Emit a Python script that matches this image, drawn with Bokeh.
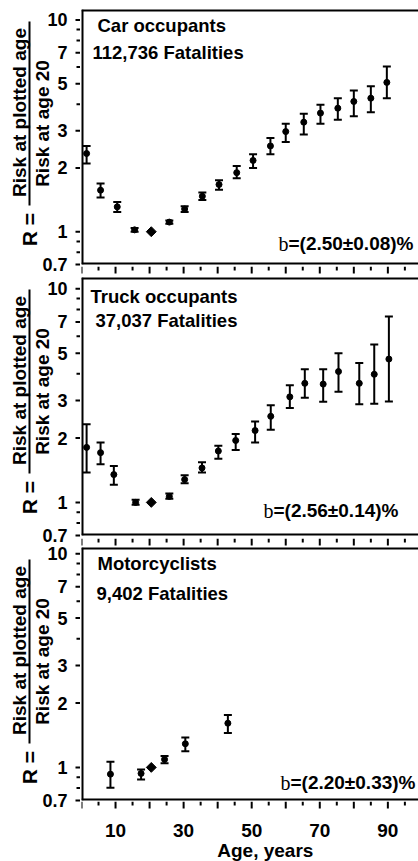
import math
from bokeh.plotting import figure
from bokeh.models import (ColumnDataSource, Whisker, TeeHead, Label, Range1d,
                          Span, LogScale)
from bokeh.layouts import column, row
from bokeh.core.properties import value
from bokeh.embed import file_html
from bokeh.resources import INLINE

# ---------------- data ----------------
car_age = [1.5, 5.6, 10.5, 15.6, 25.8, 30.3, 35.5, 40.4, 45.6, 50.4, 55.5,
           60.0, 65.3, 70.2, 75.3, 80.0, 85.0, 89.7]
car_R = [2.34, 1.57, 1.31, 1.02, 1.11, 1.28, 1.47, 1.67, 1.90, 2.17, 2.54,
         2.97, 3.29, 3.63, 3.83, 4.12, 4.27, 5.07]
car_lo = [2.10, 1.45, 1.24, 1.00, 1.09, 1.24, 1.41, 1.58, 1.79, 2.00, 2.32,
          2.65, 2.88, 3.23, 3.38, 3.51, 3.66, 4.27]
car_hi = [2.54, 1.69, 1.38, 1.04, 1.13, 1.32, 1.53, 1.75, 2.04, 2.32, 2.77,
          3.23, 3.61, 3.98, 4.27, 4.64, 4.86, 6.02]

truck_age = [1.5, 5.6, 9.5, 15.9, 25.8, 30.3, 35.4, 40.2, 45.3, 51.0, 55.6,
             61.2, 65.6, 71.0, 75.5, 81.6, 86.0, 90.3]
truck_R = [1.81, 1.71, 1.35, 1.00, 1.067, 1.28, 1.45, 1.74, 1.95, 2.17, 2.53,
           3.12, 3.61, 3.58, 4.10, 3.61, 3.98, 4.69]
truck_lo = [1.38, 1.51, 1.21, 0.975, 1.04, 1.23, 1.38, 1.60, 1.76, 1.91, 2.19,
            2.77, 3.09, 2.96, 3.30, 2.88, 2.90, 2.97]
truck_hi = [2.32, 1.91, 1.48, 1.03, 1.10, 1.34, 1.54, 1.84, 2.09, 2.39, 2.85,
            3.54, 4.20, 4.20, 5.00, 4.49, 5.49, 7.42]

moto_age = [8.5, 17.5, 24.4, 30.5, 43.0]
moto_R = [0.93, 0.937, 1.09, 1.29, 1.61]
moto_lo = [0.804, 0.877, 1.045, 1.19, 1.45]
moto_hi = [1.064, 0.978, 1.13, 1.38, 1.76]

ref_age = [20.5]
ref_R = [1.0]

titles = ["Car occupants", "Truck occupants", "Motorcyclists"]
counts = ["112,736 Fatalities", "37,037 Fatalities", "9,402 Fatalities"]
b_values = ["=(2.50±0.08)%", "=(2.56±0.14)%", "=(2.20±0.33)%"]

y_ticks = [0.7, 1, 2, 3, 5, 7, 10]
y_tick_labels = ["0.7", "1", "2", "3", "5", "7", "10"]
y_minor = [0.8, 0.9, 4, 6, 8, 9]
x_ticks = [0, 10, 20, 30, 40, 50, 60, 70, 80, 90]
x_tick_labels = ["", "10", "", "30", "", "50", "", "70", "", "90"]
x_minor = [5, 15, 25, 35, 45, 55, 65, 75, 85, 95]
x_title = "Age, years"
num_text = "Risk at plotted age"
den_text = "Risk at age 20"
r_text = "R ="

FONT = "Liberation Sans"
SERIF = "Liberation Serif"
X_END = 99.0
Y_START = 0.7
LEFT_W = 80
MAIN_W = 338
TOTAL_H = 861
x_range = Range1d(0, X_END)

# panel geometry: (y_end, frame height, top border, strip height below)
geom = [(11.2, 255, 9, 11), (11.3, 258, 1, 10), (10.7, 253, 1, 60)]


def bare(fig):
    fig.background_fill_color = "white"
    fig.border_fill_color = "white"
    fig.outline_line_color = None
    fig.xgrid.visible = False
    fig.ygrid.visible = False
    return fig


def make_strip(height, labels):
    s = figure(width=MAIN_W, height=height, x_range=x_range,
               y_range=Range1d(0, height), x_axis_location=None,
               y_axis_location=None, output_backend="svg",
               toolbar_location=None, min_border_left=1,
               min_border_right=0, min_border_top=0, min_border_bottom=0)
    bare(s)
    s.segment(x0=x_ticks, y0=[height] * len(x_ticks), x1=x_ticks,
              y1=[height - 7] * len(x_ticks), line_width=2,
              line_color="black")
    s.segment(x0=x_minor, y0=[height] * len(x_minor), x1=x_minor,
              y1=[height - 4] * len(x_minor), line_width=2,
              line_color="black")
    if labels:
        lx = [t for t, l in zip(x_ticks, x_tick_labels) if l]
        lt = [l for l in x_tick_labels if l]
        s.text(x=lx, y=[height - 29] * len(lx), text=lt, text_align="center",
               text_baseline="middle", text_font=value(FONT),
               text_font_style="bold", text_font_size="19px",
               text_color="black")
        s.text(x=[54], y=[height - 49], text=[x_title], text_align="center",
               text_baseline="middle", text_font=value(FONT),
               text_font_style="bold", text_font_size="19px",
               text_color="black")
    return s


def make_main(age, R, lo, hi, idx, lay):
    y_end, frame_h, top, strip_h = geom[idx]
    p = figure(width=MAIN_W, height=top + frame_h + 1, x_range=x_range,
               y_range=Range1d(Y_START, y_end),
               y_axis_type="log", x_axis_location=None, y_axis_location=None,
               output_backend="svg", toolbar_location=None,
               min_border_left=1, min_border_right=0, min_border_top=top,
               min_border_bottom=1)
    bare(p)
    for loc, dim in ((y_end, "width"), (Y_START, "width"), (0, "height")):
        p.add_layout(Span(location=loc, dimension=dim, line_width=4,
                          line_color="black"))

    src = ColumnDataSource(dict(age=age, R=R, lo=lo, hi=hi))
    w = Whisker(base="age", upper="hi", lower="lo", source=src,
                dimension="height", line_width=2, line_color="black",
                upper_head=TeeHead(size=8, line_width=2, line_color="black"),
                lower_head=TeeHead(size=8, line_width=2, line_color="black"))
    p.add_layout(w)
    p.scatter("age", "R", source=src, size=6, color="black")
    p.scatter(ref_age, ref_R, marker="square", angle=math.pi / 4, size=7,
              color="black")

    tx, ty, cx, cy, br, bdy = lay
    p.add_layout(Label(x=0, y=y_end, x_offset=tx, y_offset=-ty,
                       text=titles[idx], text_align="left",
                       text_baseline="middle", text_font=FONT,
                       text_font_style="bold", text_font_size="18.5px",
                       text_color="black"))
    p.add_layout(Label(x=0, y=y_end, x_offset=cx, y_offset=-cy,
                       text=counts[idx], text_align="left",
                       text_baseline="middle", text_font=FONT,
                       text_font_style="bold", text_font_size="18.5px",
                       text_color="black"))
    p.add_layout(Label(x=X_END, y=Y_START, x_offset=br, y_offset=bdy,
                       text=b_values[idx], text_align="right",
                       text_baseline="middle", text_font=FONT,
                       text_font_style="bold", text_font_size="19px",
                       text_color="black"))
    p.add_layout(Label(x=X_END, y=Y_START, x_offset=br - 125, y_offset=bdy,
                       text="b", text_align="right",
                       text_baseline="middle", text_font=SERIF,
                       text_font_size="20px", text_color="black"))
    return p, make_strip(strip_h, idx == 2)


# ---- left column: y ticks, tick labels and the fraction labels ----
# one tall figure; each panel gets a log range aligned with its own frame
ranges = []
page_top = 0
for (y_end, frame_h, top, strip_h) in geom:
    span = math.log10(y_end / Y_START)
    ftop = page_top + top
    hi_v = y_end * 10 ** (ftop * span / frame_h)
    lo_v = y_end * 10 ** (-(TOTAL_H - ftop) * span / frame_h)
    ranges.append((lo_v, hi_v, span, frame_h, y_end))
    page_top += top + frame_h + 1 + strip_h

q = figure(width=LEFT_W, height=TOTAL_H, x_range=Range1d(0, LEFT_W),
           y_range=Range1d(ranges[0][0], ranges[0][1]), y_axis_type="log",
           x_axis_location=None, y_axis_location=None, output_backend="svg",
           toolbar_location=None, min_border_left=0, min_border_right=0,
           min_border_top=0, min_border_bottom=0)
bare(q)
names = ["default", "p2", "p3"]
q.extra_y_ranges = {"p2": Range1d(ranges[1][0], ranges[1][1]),
                    "p3": Range1d(ranges[2][0], ranges[2][1])}
q.extra_y_scales = {"p2": LogScale(), "p3": LogScale()}

for i, name in enumerate(names):
    lo_v, hi_v, span, frame_h, y_end = ranges[i]

    def ypos(d):  # value lying d pixels below the top of this panel's frame
        return y_end * 10 ** (-d * span / frame_h)

    kw = dict(y_range_name=name)
    q.segment(x0=[LEFT_W - 5] * len(y_ticks), y0=y_ticks,
              x1=[LEFT_W] * len(y_ticks), y1=y_ticks,
              line_width=2, line_color="black", **kw)
    q.segment(x0=[LEFT_W - 4] * len(y_minor), y0=y_minor,
              x1=[LEFT_W] * len(y_minor), y1=y_minor,
              line_width=2, line_color="black", **kw)
    q.text(x=[LEFT_W - 13] * len(y_ticks), y=y_ticks, text=y_tick_labels,
           text_align="right", text_baseline="middle",
           text_font=value(FONT), text_font_style="bold",
           text_font_size="18px", text_color="black", **kw)
    q.text(x=[19], y=[ypos(103)], text=[num_text], angle=math.pi / 2,
           text_align="center", text_baseline="middle",
           text_font=value(FONT), text_font_style="bold",
           text_font_size="19px", text_color="black", **kw)
    q.text(x=[42], y=[ypos(114)], text=[den_text], angle=math.pi / 2,
           text_align="center", text_baseline="middle",
           text_font=value(FONT), text_font_style="bold",
           text_font_size="19px", text_color="black", **kw)
    q.text(x=[29], y=[ypos(220)], text=[r_text], angle=math.pi / 2,
           text_align="center", text_baseline="middle",
           text_font=value(FONT), text_font_style="bold",
           text_font_size="21px", text_color="black", **kw)
    q.segment(x0=[29], y0=[ypos(12)], x1=[29], y1=[ypos(196)],
              line_width=2, line_color="black", **kw)

p1, s1 = make_main(car_age, car_R, car_lo, car_hi, 0, (16, 16, 11, 43, -5, 21))
p2, s2 = make_main(truck_age, truck_R, truck_lo, truck_hi, 1,
                   (9, 19, 14, 43, -20, 25))
p3, s3 = make_main(moto_age, moto_R, moto_lo, moto_hi, 2,
                   (16, 16, 15, 46, -3, 18))

layout = row(q, column(p1, s1, p2, s2, p3, s3, spacing=0), spacing=0)
open("out.html", "w").write(file_html(layout, INLINE))
